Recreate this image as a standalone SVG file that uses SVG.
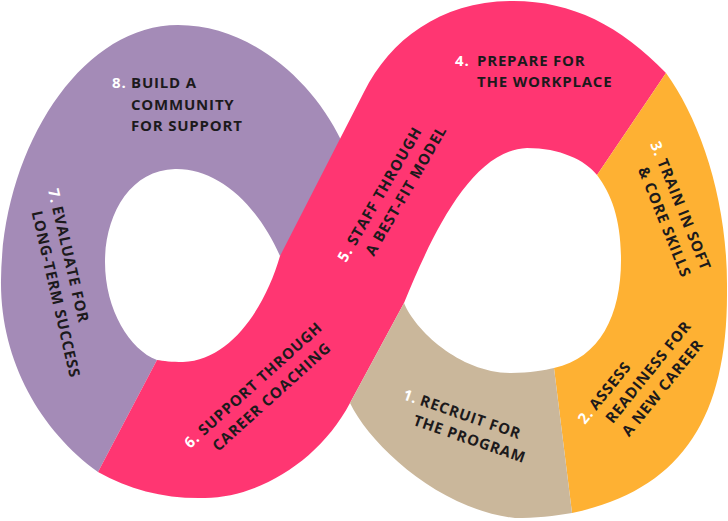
<svg xmlns="http://www.w3.org/2000/svg" width="728" height="521" viewBox="0 0 728 521">
<style>
.lbl{font-family:"Open Sans","Liberation Sans",sans-serif;font-weight:700;font-size:15px;letter-spacing:0.8px;fill:#1c1a1c}
.num{fill:#ffffff}
</style>
<rect width="728" height="521" fill="#ffffff"/>
<g id="bands">
  <path id="band-purple" fill="#A48BB7" d="M 98 472 C 40 430, 0 360, 1 280 C 2 150, 80 25, 178 25 C 250 25, 312 80, 341 140 L 300 240 L 280 256 C 255 200, 215 168, 175 169 C 130 170, 105 215, 105 262 C 105 310, 130 350, 157 360 Z"/>
  <path id="band-pink" fill="#FF3672" d="M 98 472 C 130 490, 165 499, 205 498 C 260 497, 320 460, 350 403 L 404 303 C 430 240, 470 150, 527 148 C 560 148, 585 160, 597 175 L 666 73 C 620 25, 570 0, 510 1 C 440 2, 390 40, 364 92 L 280 256 C 266 305, 232 360, 183 362 C 172 362, 163 361, 157 360 Z"/>
  <path id="band-orange" fill="#FEB133" d="M 666 73 C 700 120, 728 200, 727 290 C 728 420, 680 490, 572 513 L 554 368 C 600 358, 621 315, 621 260 C 621 220, 612 195, 597 175 Z"/>
  <path id="band-beige" fill="#CAB79B" d="M 350 403 L 404 303 C 415 330, 460 373, 511 373 C 530 373, 545 370, 554 368 L 572 513 C 555 516, 535 518, 515 518 C 440 510, 370 445, 350 403 Z"/>
</g>
<g id="step1" class="lbl" transform="translate(402 399) rotate(19)">
  <text class="num" x="0" y="0">1.</text>
  <text x="18" y="0">RECRUIT FOR</text>
  <text x="18" y="21">THE PROGRAM</text>
</g>
<g id="step2" class="lbl" transform="translate(585 425) rotate(-51)">
  <text class="num" x="0" y="0">2.</text>
  <text x="18" y="0">ASSESS</text>
  <text x="18" y="21">READINESS FOR</text>
  <text x="18" y="42">A NEW CAREER</text>
</g>
<g id="step3" class="lbl" transform="translate(650 144) rotate(68)">
  <text class="num" x="0" y="0">3.</text>
  <text x="19" y="0">TRAIN IN SOFT</text>
  <text x="19" y="21">&amp; CORE SKILLS</text>
</g>
<g id="step4" class="lbl">
  <text class="num" x="455" y="66">4.</text>
  <text x="477" y="66">PREPARE FOR</text>
  <text x="477" y="87">THE WORKPLACE</text>
</g>
<g id="step5" class="lbl" transform="translate(346 263) rotate(-60)">
  <text class="num" x="0" y="0">5.</text>
  <text x="19" y="0">STAFF THROUGH</text>
  <text x="19" y="21">A BEST-FIT MODEL</text>
</g>
<g id="step6" class="lbl" transform="translate(190 449) rotate(-42)">
  <text class="num" x="0" y="0">6.</text>
  <text x="19" y="0">SUPPORT THROUGH</text>
  <text x="19" y="21">CAREER COACHING</text>
</g>
<g id="step7" class="lbl" transform="translate(48 190) rotate(77)">
  <text class="num" x="0" y="0">7.</text>
  <text x="18" y="0">EVALUATE FOR</text>
  <text x="18" y="21">LONG-TERM SUCCESS</text>
</g>
<g id="step8" class="lbl">
  <text class="num" x="112" y="88">8.</text>
  <text x="131" y="88">BUILD A</text>
  <text x="131" y="109.5">COMMUNITY</text>
  <text x="131" y="131">FOR SUPPORT</text>
</g>
</svg>
